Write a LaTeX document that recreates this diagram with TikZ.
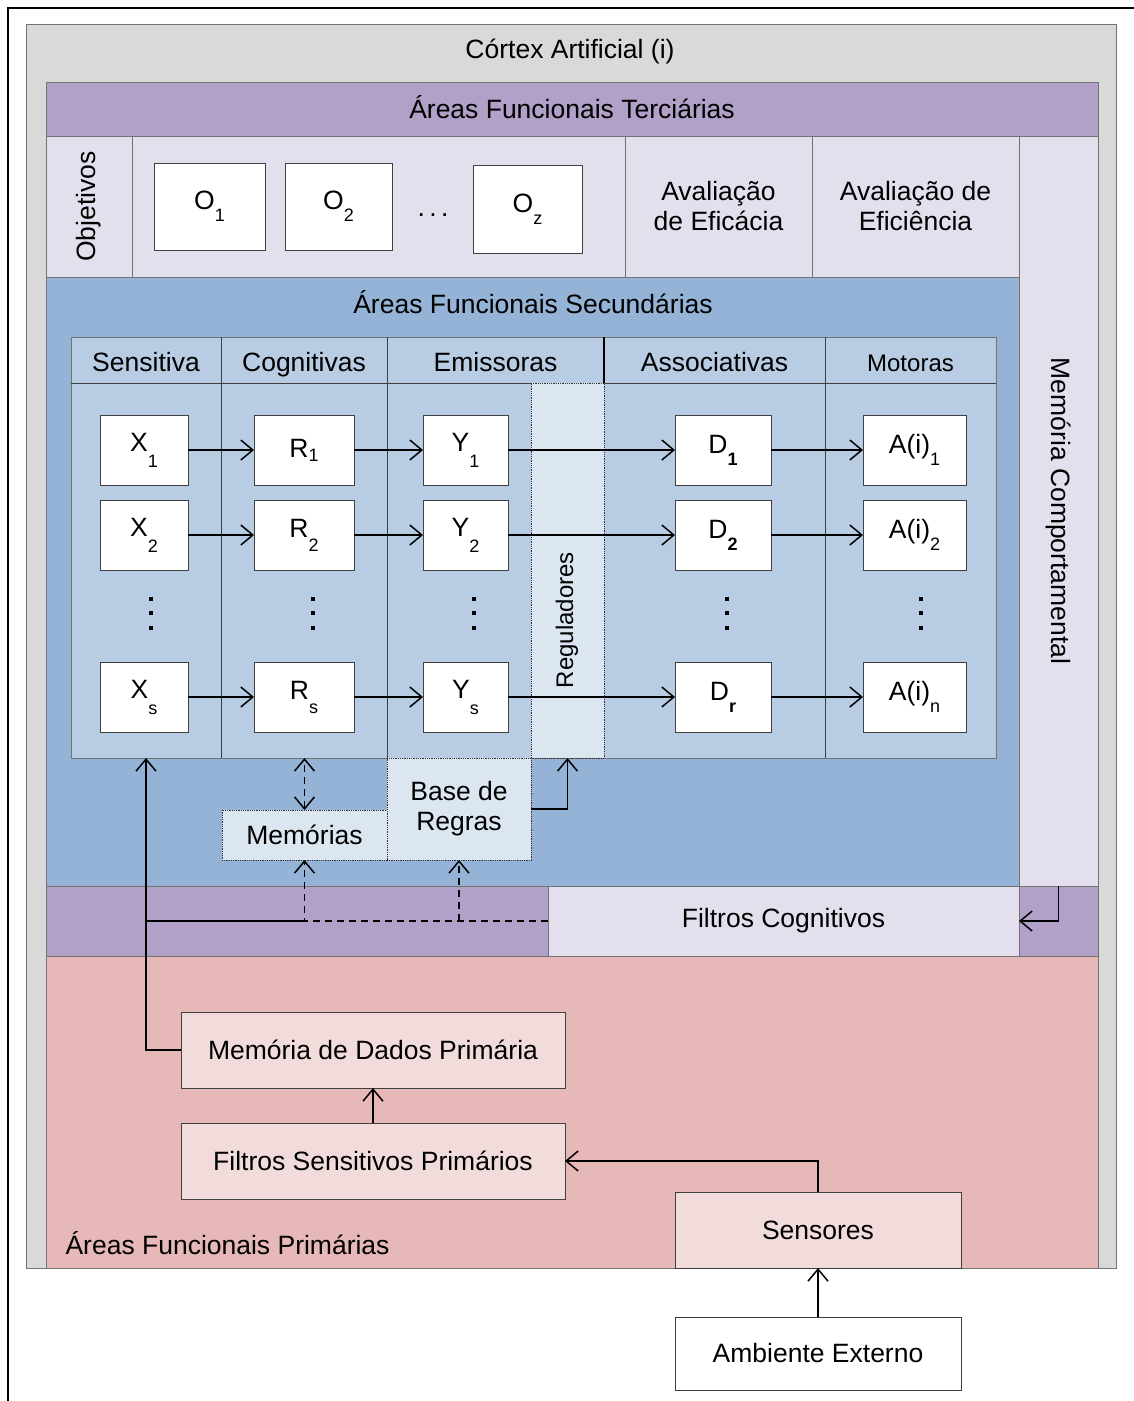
\documentclass[tikz,border=0pt]{standalone}
\usepackage{fontspec}
\setmainfont{Liberation Sans}
\usetikzlibrary{arrows.meta}
\definecolor{cgray}{HTML}{D9D9D9}
\definecolor{cpurple}{HTML}{B1A0C7}
\definecolor{clav}{HTML}{E4DFEC}
\definecolor{cblue}{HTML}{95B3D7}
\definecolor{ctab}{HTML}{B8CCE4}
\definecolor{creg}{HTML}{DCE6F1}
\definecolor{cpink}{HTML}{E6B8B7}
\definecolor{clpink}{HTML}{F2DCDB}
\newcommand{\lsub}[2][12pt]{\raisebox{-#1}{\fontsize{18}{18}\selectfont #2}}
\newcommand{\rbox}[7]{\node[#6, inner sep=0pt, outer sep=0pt, align=center,
  minimum width={((#4)-(#2))*1pt}, minimum height={((#5)-(#3))*1pt}]
  (#1) at ({((#2)+(#4))/2},{((#3)+(#5))/2}) {#7};}
\tikzset{
  area/.style={draw=black!55, line width=0.8pt},
  wbox/.style={draw=black!75, fill=white, line width=0.8pt},
  hdr/.style={text height=24pt, text depth=2pt},
  dotbox/.style={draw=black!80, densely dotted, line width=0.8pt, fill=creg},
  tipb/.tip={Straight Barb[length=12pt,width=20pt,line width=1.5pt]},
  arr/.style={line width=1.5pt, -tipb},
  dsh/.style={dash pattern=on 7pt off 5pt},
  sep/.style={draw=black!75, line width=0.8pt},
}
\begin{document}
\begin{tikzpicture}[x=1pt,y=-1pt,font=\fontsize{26.5}{30}\selectfont]
\useasboundingbox (0,0) rectangle (1134,1401);
% outer frame
\draw[line width=1.6pt] (8,1401) -- (8,8) -- (1134,8);
% cortex
\rbox{cortex}{26}{24}{1116}{1268}{area, fill=cgray}{}
\node (ctitle) at (570,51) {Córtex Artificial (i)};
% tertiary
\rbox{terc}{46}{82}{1098}{136}{area, fill=cpurple}{}
\node (terct) at (572,107) {Áreas Funcionais Terciárias};
\rbox{obj}{46}{136}{132}{277}{area, fill=clav}{}
\node[rotate=90] (objt) at (obj.center) {Objetivos};
\rbox{oarea}{132}{136}{625}{277}{area, fill=clav}{}
\rbox{aval1}{625}{136}{812}{277}{area, fill=clav}{Avaliação\\de Eficácia}
\rbox{aval2}{812}{136}{1019}{277}{area, fill=clav}{Avaliação de\\Eficiência}
\rbox{memc}{1019}{136}{1098}{886}{area, fill=clav}{}
\node[rotate=-90] (memct) at (1058,511) {Memória Comportamental};
\rbox{o1}{154}{163}{265}{250}{wbox}{O\lsub{1}}
\rbox{o2}{285}{163}{392}{250}{wbox}{O\lsub{2}}
\node (odots) at (433,215) {.\,.\,.};
\rbox{oz}{473}{165}{582}{253}{wbox}{O\lsub{z}}
% secondary
\rbox{sec}{46}{277}{1019}{886}{area, fill=cblue}{}
\node (sect) at (533,302) {Áreas Funcionais Secundárias};
% table
\rbox{tbl}{71}{337}{996}{758}{area, fill=ctab}{}
\rbox{hS}{71}{337}{221}{383}{hdr}{Sensitiva}
\rbox{hC}{221}{337}{387}{383}{hdr}{Cognitivas}
\rbox{hE}{387}{337}{604}{383}{hdr}{Emissoras}
\rbox{hA}{604}{337}{825}{383}{hdr}{Associativas}
\rbox{hM}{825}{337}{996}{383}{hdr, font=\fontsize{24}{28}\selectfont}{Motoras}
\rbox{colS}{71}{383}{221}{758}{}{}
\rbox{colC}{221}{383}{387}{758}{}{}
\rbox{colE}{387}{383}{531}{758}{}{}
\rbox{colA}{604}{383}{825}{758}{}{}
\rbox{colM}{825}{383}{996}{758}{}{}
\draw[sep] (hS.south west) -- (hM.south east);
\draw[sep] (hS.north east) -- (colS.south east);
\draw[sep] (hC.north east) -- (colC.south east);
\draw[sep] (hM.north west) -- (colM.south west);
\draw[line width=1.3pt] (hE.north east) -- (hE.south east);
\rbox{reg}{531}{383}{604}{758}{dotbox}{}
\node[rotate=90, font=\fontsize{24}{28}\selectfont] (regt) at (567,620) {Reguladores};
% rows
\rbox{x1}{100}{415}{188}{485}{wbox}{X\lsub[16pt]{1}}
\rbox{x2}{100}{500}{188}{570}{wbox}{X\lsub[16pt]{2}}
\rbox{xs}{100}{662}{188}{732}{wbox}{X\lsub[16pt]{s}}
\rbox{r1}{254}{415}{354}{485}{wbox}{R\lsub[4pt]{1}}
\rbox{r2}{254}{500}{354}{570}{wbox}{R\lsub[14pt]{2}}
\rbox{rs}{254}{662}{354}{732}{wbox}{R\lsub[14pt]{s}}
\rbox{y1}{423}{415}{508}{485}{wbox}{Y\lsub[16pt]{1}}
\rbox{y2}{423}{500}{508}{570}{wbox}{Y\lsub[16pt]{2}}
\rbox{ys}{423}{662}{508}{732}{wbox}{Y\lsub[16pt]{s}}
\rbox{d1}{675}{415}{771}{485}{wbox}{D\lsub[12pt]{\textbf{1}}}
\rbox{d2}{675}{500}{771}{570}{wbox}{D\lsub[12pt]{\textbf{2}}}
\rbox{dr}{675}{662}{771}{732}{wbox}{D\lsub[12pt]{\textbf{r}}}
\rbox{a1}{863}{415}{966}{485}{wbox}{A(i)\lsub[12pt]{1}}
\rbox{a2}{863}{500}{966}{570}{wbox}{A(i)\lsub[12pt]{2}}
\rbox{an}{863}{662}{966}{732}{wbox}{A(i)\lsub[12pt]{n}}
% vertical ellipses
\foreach \xx in {151, 313, 474, 727, 921}{
  \foreach \yy in {599, 613, 628}{
    \fill (\xx-2,\yy-2) rectangle (\xx+2,\yy+2);
  }
}
\foreach \a/\b in {x1/r1, x2/r2, xs/rs, r1/y1, r2/y2, rs/ys, y1/d1, y2/d2, ys/dr, d1/a1, d2/a2, dr/an}{
  \draw[arr] (\a.east) -- (\b.west);
}
% memories and rules
\rbox{mem}{222}{810}{387}{860}{dotbox}{Memórias}
\rbox{br}{387}{758}{531}{860}{dotbox}{Base de\\Regras}
\draw[line width=1.5pt, dsh, tipb-tipb] (mem.north) -- (mem.north |- colC.south);
\draw[arr] (br.east) -| (reg.south);
% cognitive filters band
\rbox{band}{46}{886}{1098}{956}{area, fill=cpurple}{}
\rbox{fc}{548}{886}{1019}{956}{area, fill=clav}{Filtros Cognitivos}
\draw[arr] (memc.south) |- (fc.east);
% primary
\rbox{prim}{46}{956}{1098}{1268}{area, fill=cpink}{}
\node[anchor=west] (primt) at (62,1243) {Áreas Funcionais Primárias};
\rbox{mdp}{181}{1012}{565}{1088}{area, draw=black!75, fill=clpink}{Memória de Dados Primária}
\rbox{fsp}{181}{1123}{565}{1199}{area, draw=black!75, fill=clpink}{Filtros Sensitivos Primários}
\rbox{sen}{675}{1192}{961}{1268}{area, draw=black!75, fill=clpink}{Sensores}
\rbox{amb}{675}{1317}{961}{1390}{wbox}{Ambiente Externo}
% connectors
\draw[arr] (mdp.west) -| (colS.south);
\draw[line width=1.5pt] (colS.south |- fc.west) -- (mem.south |- fc.west);
\draw[line width=1.5pt, dsh, -tipb] (fc.west) -- (mem.south |- fc.west) -- (mem.south);
\draw[line width=1.5pt, dsh, -tipb] (br.south |- fc.west) -- (br.south);
\draw[arr] (fsp.north) -- (mdp.south);
\draw[arr] (sen.north) |- (fsp.east);
\draw[arr] (amb.north) -- (sen.south);
\end{tikzpicture}
\end{document}
